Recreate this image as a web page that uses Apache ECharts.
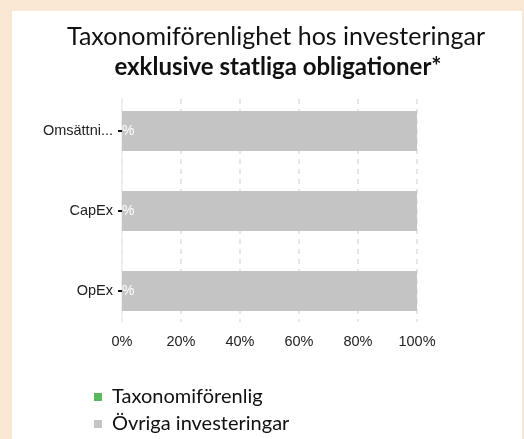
<!DOCTYPE html>
<html>
<head>
<meta charset="utf-8">
<script src="https://cdn.jsdelivr.net/npm/echarts@6/dist/echarts.min.js"></script>
<style>
html,body{margin:0;padding:0;background:#fbe8d4;}
#c{width:524px;height:439px;}
</style>
</head>
<body>
<div id="c"></div>
<script>
const categories = ['Omsättningsförenlig', 'CapEx', 'OpEx'];
const alignedValues = [0, 0, 0];
const otherValues = [100, 100, 100];
const xTicks = [0, 20, 40, 60, 80, 100];
const seriesNames = ['Taxonomiförenlig', 'Övriga investeringar'];
const titleLines = ['Taxonomiförenlighet hos investeringar', 'exklusive statliga obligationer*'];

const chart = echarts.init(document.getElementById('c'), null, {renderer: 'canvas'});
chart.setOption({
  backgroundColor: '#fbe8d4',
  animation: false,
  graphic: [{
    type: 'rect', z: -10, silent: true,
    shape: {x: 12, y: 11, width: 510, height: 440},
    style: {fill: '#ffffff'}
  }],
  title: [
    {left: 271, textAlign: 'center', top: 17, text: titleLines[0],
     textStyle: {fontFamily: 'Lato', fontSize: 25, fontWeight: 'normal', color: '#111', lineHeight: 30}},
    {left: 273, textAlign: 'center', top: 47, text: titleLines[1],
     textStyle: {fontFamily: 'Lato', fontSize: 24, fontWeight: 'bold', color: '#111', lineHeight: 30}}
  ],
  legend: {
    orient: 'vertical', left: 94, top: 386, padding: 0,
    itemWidth: 8, itemHeight: 8, itemGap: 5,
    icon: 'rect',
    textStyle: {fontFamily: 'Lato', fontSize: 20, color: '#111', padding: [0, 0, 0, 5], lineHeight: 22},
    data: seriesNames
  },
  grid: [
    {left: 122, right: 107, top: 91, bottom: 108},
    {left: 122, right: 107, top: 99, bottom: 117}
  ],
  xAxis: [
    {gridIndex: 0, type: 'value', min: 0, max: 100, interval: 20,
     axisLine: {show: false}, axisTick: {show: false}, axisLabel: {show: false}, splitLine: {show: false}},
    {gridIndex: 1, type: 'value', min: 0, max: 100, interval: 20,
     axisLine: {show: false}, axisTick: {show: false},
     axisLabel: {fontFamily: 'Liberation Sans', fontSize: 14.5, color: '#222', margin: 12,
       formatter: v => xTicks.includes(v) ? v + '%' : ''},
     splitLine: {show: true, lineStyle: {color: '#e0e0e0', type: [5, 5], width: 1.5}}}
  ],
  yAxis: [
    {gridIndex: 0, type: 'category', data: categories, inverse: true,
     axisLine: {show: false},
     axisTick: {show: true, alignWithLabel: true, length: 4, lineStyle: {color: '#111', width: 2}},
     axisLabel: {fontFamily: 'Liberation Sans', fontSize: 14.5, color: '#222', margin: 9,
       formatter: v => v.length > 10 ? v.slice(0, 8) + '...' : v}},
    {gridIndex: 1, type: 'category', data: categories, inverse: true,
     axisLine: {show: true, lineStyle: {color: '#ececec', width: 1.5}},
     axisTick: {show: false}, axisLabel: {show: false}, splitLine: {show: false}}
  ],
  series: [
    {name: seriesNames[0], type: 'bar', stack: 'a', xAxisIndex: 0, yAxisIndex: 0,
     data: alignedValues, barWidth: 40, itemStyle: {color: '#5cb85c'},
     label: {show: true, position: 'right', distance: 0, formatter: '%', color: '#ffffff',
       fontFamily: 'Liberation Sans', fontSize: 14}},
    {name: seriesNames[1], type: 'bar', stack: 'a', xAxisIndex: 0, yAxisIndex: 0,
     data: otherValues, barWidth: 40, itemStyle: {color: '#c4c4c4'}, z: 1}
  ]
});
</script>
</body>
</html>
